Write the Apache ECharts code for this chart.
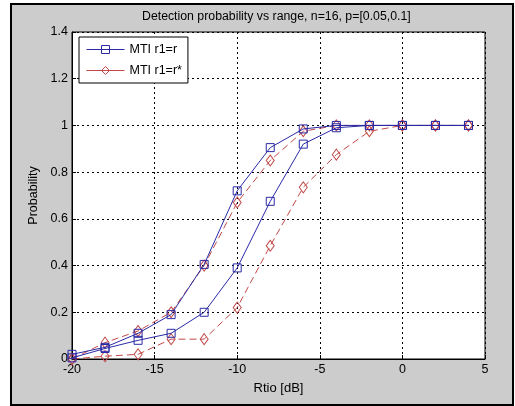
<!DOCTYPE html>
<html>
<head>
<meta charset="utf-8">
<script src="https://cdn.jsdelivr.net/npm/echarts@6/dist/echarts.min.js"></script>
<style>
  html, body { margin: 0; padding: 0; background: #ffffff; }
  #chart { width: 515px; height: 406px; }
</style>
</head>
<body>
<div id="chart"></div>
<script>
// SNR ratio samples [dB]
const ratioDb = [-20, -18, -16, -14, -12, -10, -8, -6, -4, -2, 0, 2, 4];
// MTI r1=r, p = 0.1 and p = 0.05
const mtiR_p1 = [0.02, 0.05, 0.11, 0.19, 0.405, 0.72, 0.905, 0.985, 1.0, 1.0, 1.0, 1.0, 1.0];
const mtiR_p2 = [0.005, 0.045, 0.08, 0.11, 0.20, 0.39, 0.675, 0.92, 0.99, 1.0, 1.0, 1.0, 1.0];
// MTI r1=r*, p = 0.1 and p = 0.05
const mtiRs_p1 = [0.0, 0.07, 0.12, 0.20, 0.40, 0.67, 0.85, 0.975, 1.0, 1.0, 1.0, 1.0, 1.0];
const mtiRs_p2 = [0.0, 0.012, 0.02, 0.085, 0.085, 0.22, 0.485, 0.735, 0.875, 0.975, 1.0, 1.0, 1.0];

const xTicks = [-20, -15, -10, -5, 0, 5];
const yTicks = [0, 0.2, 0.4, 0.6, 0.8, 1, 1.2, 1.4];

const BLUE = '#2a2aa6';
const RED = '#c04848';
const FONT = 'Liberation Sans, Arial, sans-serif';

function pairs(ys) { return ratioDb.map((x, i) => [x, ys[i]]); }

function blueSeries(ys) {
  return {
    name: 'MTI r1=r', type: 'line', data: pairs(ys),
    symbol: 'rect', symbolSize: 8,
    lineStyle: { color: BLUE, width: 1, type: 'solid' },
    itemStyle: { color: 'rgba(0,0,0,0)', borderColor: BLUE, borderWidth: 1 },
    emphasis: { disabled: true }, z: 3
  };
}
function redSeries(ys) {
  return {
    name: 'MTI r1=r*', type: 'line', data: pairs(ys),
    symbol: 'diamond', symbolSize: [8, 11],
    lineStyle: { color: RED, width: 1, type: [7, 4] },
    itemStyle: { color: 'rgba(0,0,0,0)', borderColor: RED, borderWidth: 1 },
    emphasis: { disabled: true }, z: 2
  };
}

const chart = echarts.init(document.getElementById('chart'), null, { renderer: 'canvas' });
chart.setOption({
  animation: false,
  backgroundColor: '#ffffff',
  graphic: [{
    type: 'rect', z: -100, silent: true,
    shape: { x: 11, y: 4, width: 502, height: 401 },
    style: { fill: '#cccccc', stroke: '#000000', lineWidth: 2 }
  }],
  title: {
    text: 'Detection probability vs range, n=16, p=[0.05,0.1]',
    left: 142, top: 11,
    textStyle: { fontFamily: FONT, fontSize: 12.3, fontWeight: 'normal', color: '#000' },
    padding: 0
  },
  legend: {
    left: 79, top: 37, orient: 'vertical',
    data: ['MTI r1=r', 'MTI r1=r*'],
    backgroundColor: '#ffffff', borderColor: '#000000', borderWidth: 1,
    padding: [6, 6, 6, 7], itemGap: 8, itemWidth: 38, itemHeight: 10,
    lineStyle: { width: 1, type: 'solid' },
    itemStyle: { borderWidth: 1 },
    textStyle: { fontFamily: FONT, fontSize: 12.5, color: '#000' },
    selectedMode: false
  },
  grid: {
    left: 72, right: 30, top: 32, bottom: 47,
    show: true, backgroundColor: '#ffffff', borderColor: '#000000', borderWidth: 1
  },
  xAxis: {
    type: 'value', min: -20, max: 5, interval: 5,
    name: 'Rtio [dB]', nameLocation: 'middle', nameGap: 23,
    nameTextStyle: { fontFamily: FONT, fontSize: 13, color: '#000' },
    axisLine: { show: true, onZero: false, lineStyle: { color: '#000', width: 1 } },
    axisTick: { show: true, inside: true, length: 4, lineStyle: { color: '#000' } },
    axisLabel: {
      fontFamily: FONT, fontSize: 12.5, color: '#000', margin: 4,
      formatter: v => (xTicks.indexOf(v) >= 0 ? String(v) : '')
    },
    splitLine: { show: true, lineStyle: { color: '#000', type: [2, 3], width: 1 } }
  },
  yAxis: {
    type: 'value', min: 0, max: 1.4, interval: 0.2,
    name: 'Probability', nameLocation: 'middle', nameGap: 26,
    nameTextStyle: { fontFamily: FONT, fontSize: 12.5, color: '#000' },
    axisLine: { show: true, onZero: false, lineStyle: { color: '#000', width: 1 } },
    axisTick: { show: true, inside: true, length: 4, lineStyle: { color: '#000' } },
    axisLabel: {
      fontFamily: FONT, fontSize: 12.5, color: '#000', margin: 4,
      formatter: v => {
        const t = yTicks.find(k => Math.abs(k - v) < 1e-9);
        return t === undefined ? '' : String(t);
      }
    },
    splitLine: { show: true, lineStyle: { color: '#000', type: [2, 3], width: 1 } }
  },
  series: [
    redSeries(mtiRs_p1),
    redSeries(mtiRs_p2),
    blueSeries(mtiR_p1),
    blueSeries(mtiR_p2)
  ]
});
</script>
</body>
</html>
